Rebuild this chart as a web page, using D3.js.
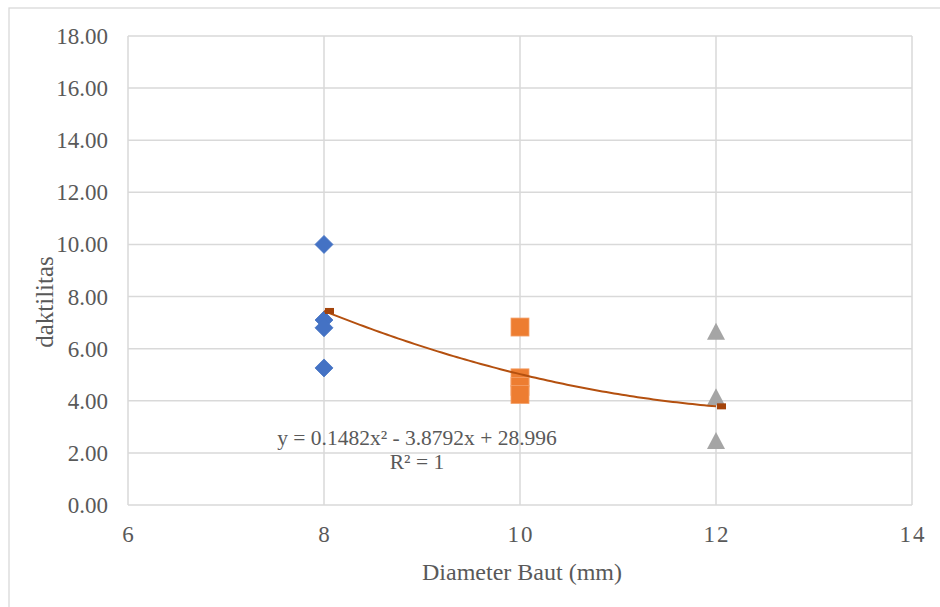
<!DOCTYPE html>
<html><head><meta charset="utf-8">
<script src="https://cdn.jsdelivr.net/npm/d3@7"></script>
<style>html,body{margin:0;padding:0;background:#fff;}</style>
</head><body>
<svg id="c" width="940" height="607"></svg>
<script>
const xTicks = [6, 8, 10, 12, 14];
const yTicks = [0, 2, 4, 6, 8, 10, 12, 14, 16, 18];
const seriesBlueX = [8, 8, 8, 8];
const seriesBlueY = [10.0, 7.10, 6.80, 5.26];
const seriesOrangeX = [10, 10, 10, 10];
const seriesOrangeY = [6.83, 4.88, 4.55, 4.24];
const seriesGrayX = [12, 12, 12];
const seriesGrayY = [6.65, 4.14, 2.46];
const trendCoef = [0.1482, -3.8792, 28.996];
const trendRange = [8, 12];
const trendLabel = ["y = 0.1482x² - 3.8792x + 28.996", "R² = 1"];

const svg = d3.select("#c");
const W = 940, H = 607;
const m = {left:128, right:912, top:36, bottom:505};
const x = d3.scaleLinear().domain([6,14]).range([m.left, m.right]);
const y = d3.scaleLinear().domain([0,18]).range([m.bottom, m.top]);
const grid = "#d9d9d9", txt = "#595959";
const font = "'Liberation Serif','Times New Roman',serif";

svg.append("rect").attr("x",9).attr("y",8).attr("width",W).attr("height",H)
  .attr("fill","#fff").attr("stroke",grid).attr("stroke-width",1.3);

// gridlines
svg.append("g").selectAll("line").data(yTicks).join("line")
  .attr("x1",m.left).attr("x2",m.right).attr("y1",d=>y(d)).attr("y2",d=>y(d))
  .attr("stroke",grid).attr("stroke-width",1.5);
svg.append("g").selectAll("line").data(xTicks).join("line")
  .attr("y1",m.top).attr("y2",m.bottom).attr("x1",d=>x(d)).attr("x2",d=>x(d))
  .attr("stroke",grid).attr("stroke-width",1.5);

// tick labels
svg.append("g").selectAll("text").data(yTicks).join("text")
  .attr("x",108).attr("y",d=>y(d)+8).attr("text-anchor","end")
  .attr("font-family",font).attr("font-size",23).attr("fill",txt)
  .text(d=>d3.format(".2f")(d));
svg.append("g").selectAll("text").data(xTicks).join("text")
  .attr("x",d=>x(d)+1).attr("y",542).attr("text-anchor","middle")
  .attr("font-family",font).attr("font-size",23).attr("fill",txt)
  .attr("letter-spacing",2)
  .text(d=>d);

// axis titles
svg.append("text").attr("x",522).attr("y",580).attr("text-anchor","middle")
  .attr("font-family",font).attr("font-size",24).attr("fill",txt).text("Diameter Baut (mm)");
svg.append("text").attr("transform","translate(53,302) rotate(-90)").attr("text-anchor","middle")
  .attr("font-family",font).attr("font-size",25).attr("fill",txt).text("daktilitas");

// points
const blue = seriesBlueX.map((d,i)=>[d, seriesBlueY[i]]);
const orange = seriesOrangeX.map((d,i)=>[d, seriesOrangeY[i]]);
const gray = seriesGrayX.map((d,i)=>[d, seriesGrayY[i]]);

svg.append("g").selectAll("path").data(blue).join("path")
  .attr("d",d=>{const cx=x(d[0]), cy=y(d[1]), r=9; return `M${cx},${cy-r}L${cx+r},${cy}L${cx},${cy+r}L${cx-r},${cy}Z`;})
  .attr("fill","#4472C4").attr("stroke","#4472C4").attr("stroke-width",0.8);
svg.append("g").selectAll("rect").data(orange).join("rect")
  .attr("x",d=>x(d[0])-9).attr("y",d=>y(d[1])-9).attr("width",18).attr("height",18)
  .attr("fill","#ED7D31").attr("stroke","#F4A26B").attr("stroke-width",0.8);
svg.append("g").selectAll("path").data(gray).join("path")
  .attr("d",d=>{const cx=x(d[0]), cy=y(d[1]); return `M${cx},${cy-9}L${cx+9},${cy+8}L${cx-9},${cy+8}Z`;})
  .attr("fill","#A5A5A5");

// trendline
const f = t => trendCoef[0]*t*t + trendCoef[1]*t + trendCoef[2];
const tx = d3.range(0,101).map(i=>trendRange[0]+(trendRange[1]-trendRange[0])*i/100);
svg.append("path").datum(tx)
  .attr("d", d3.line().x(t=>x(t)).y(t=>y(f(t))))
  .attr("fill","none").attr("stroke","#B4500F").attr("stroke-width",2);
svg.append("g").selectAll("rect").data(trendRange).join("rect")
  .attr("x",t=>x(t)+1).attr("y",t=>y(f(t))-3).attr("width",9).attr("height",6)
  .attr("fill","#A4440B");

// equation
svg.append("text").attr("x",417).attr("y",445).attr("text-anchor","middle")
  .attr("font-family",font).attr("font-size",21.5).attr("fill",txt).text(trendLabel[0]);
svg.append("text").attr("x",417).attr("y",469).attr("text-anchor","middle")
  .attr("font-family",font).attr("font-size",21.5).attr("fill",txt).text(trendLabel[1]);
</script>
</body></html>
